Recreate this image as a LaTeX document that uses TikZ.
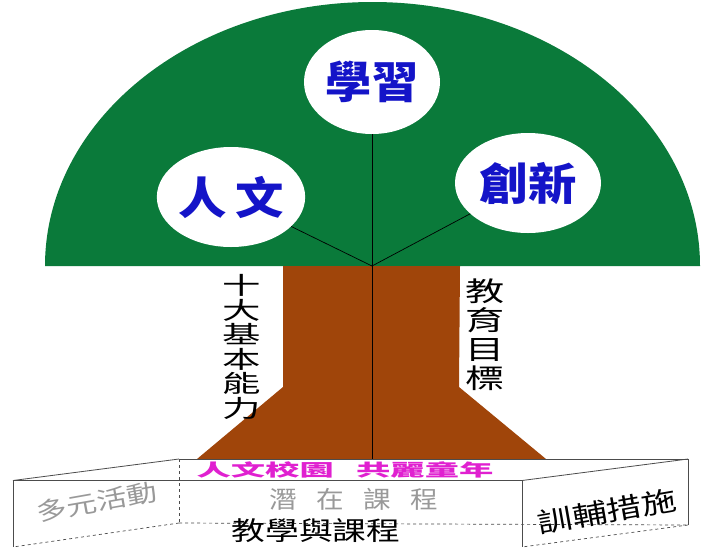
\documentclass[tikz,border=0pt]{standalone}
\usepackage{fontspec}
\setmainfont{Noto Sans CJK TC}
\usetikzlibrary{shapes.geometric}
\definecolor{leaf}{HTML}{0A7A3A}
\definecolor{bark}{HTML}{A0450A}
\definecolor{ink}{HTML}{1414C8}
\definecolor{pinktext}{HTML}{E020D0}
\tikzset{
  x=1pt,y=-1pt,
  bubble/.style={ellipse,fill=white,inner sep=0pt,text=ink,font=\fontsize{44}{44}\selectfont\bfseries},
  branch/.style={draw=black,line width=0.7pt},
  edge/.style={draw=black!70,line width=0.8pt},
  dashedge/.style={draw=black!70,line width=0.7pt,dashed},
  stacked/.style={inner sep=0pt,align=center,text=black},
  tilted/.style={inner sep=0pt,rotate=10},
}
\begin{document}
\begin{tikzpicture}
\useasboundingbox (0,0) rectangle (715,547);
\fill[white] (0,0) rectangle (715,547);
% crown
\fill[leaf] (45,266) arc[start angle=180,end angle=360,x radius=327.5,y radius=264] -- cycle;
% trunk
\fill[bark] (283,266) -- (460,266) -- (459,387) -- (546,459) -- (197,459) -- (283,387) -- cycle;
% nodes
\coordinate (hub) at (372,266);
\coordinate (root) at (372,459);
\node[bubble,minimum width=136,minimum height=104] (top) at (372,82) {\raisebox{3pt}{\scalebox{1.05}[1]{學習}}};
\node[bubble,minimum width=146,minimum height=100] (left) at (231,197) {\scalebox{1.1}[1]{人\,文}};
\node[bubble,minimum width=146,minimum height=100] (right) at (528,183) {\scalebox{1.1}[1]{創新}};
\draw[branch] (hub) -- (top);
\draw[branch] (hub) -- (left);
\draw[branch] (hub) -- (right);
\draw[branch] (hub) -- (root);
% vertical labels
\node[stacked,font=\fontsize{24}{24.5}\selectfont] (abilities) at (242,347) {\scalebox{1.6}[1]{十}\\\scalebox{1.6}[1]{大}\\\scalebox{1.6}[1]{基}\\\scalebox{1.6}[1]{本}\\\scalebox{1.6}[1]{能}\\\scalebox{1.6}[1]{力}};
\node[stacked,font=\fontsize{27}{29}\selectfont] (goals) at (485,335) {\scalebox{1.45}[1]{教}\\\scalebox{1.45}[1]{育}\\\scalebox{1.45}[1]{目}\\\scalebox{1.45}[1]{標}};
% box
\coordinate (fa) at (13,480.5);
\coordinate (fb) at (522,480.5);
\coordinate (fc) at (522,547);
\coordinate (fd) at (13,547);
\coordinate (ba) at (179,459);
\coordinate (bb) at (688,459);
\coordinate (bc) at (688,525);
\coordinate (bd) at (179,523);
\draw[edge] (fd) -- (fa) -- (fb) -- (fc);
\draw[edge] (fa) -- (ba);
\draw[edge] (ba) -- (bb) -- (bc);
\draw[edge] (fb) -- (bb);
\draw[dashedge] (ba) -- (bd);
\draw[dashedge] (bd) -- (bc);
\draw[dashedge] (bd) -- (fd);
\draw[dashedge] (bc) -- (fc);
% box labels
\node[inner sep=0pt,text=pinktext,font=\fontsize{17}{17}\selectfont\bfseries] (motto) at (345,470) {\scalebox{2.02}[1]{人文校園\hspace{11pt}共麗童年}};
\node[inner sep=0pt,text=black!40,font=\fontsize{24}{24}\selectfont] (hidden) at (354,499) {\scalebox{1.15}[1]{潛\hspace{17pt}在\hspace{17pt}課\hspace{17pt}程}};
\node[inner sep=0pt,text=black,font=\fontsize{26}{26}\selectfont] (teach) at (316,531) {\scalebox{1.3}[1]{教學與課程}};
\node[tilted,text=black!40,font=\fontsize{24}{24}\selectfont] (multi) at (97,502) {\scalebox{1.27}[1]{多元活動}};
\node[tilted,text=black,font=\fontsize{27}{27}\selectfont] (guide) at (607,511) {\scalebox{1.3}[1]{訓輔措施}};
\end{tikzpicture}
\end{document}
